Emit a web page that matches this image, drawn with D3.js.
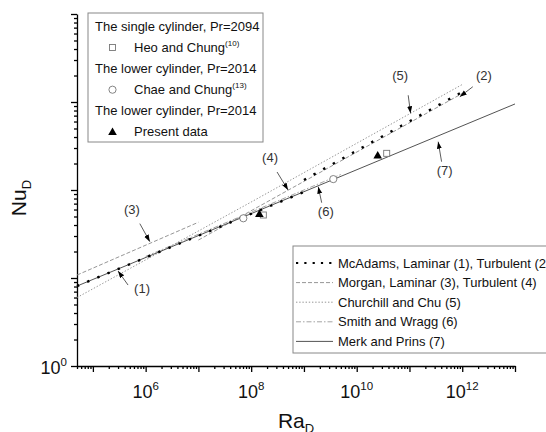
<!DOCTYPE html>
<html>
<head>
<meta charset="utf-8">
<script src="https://cdn.jsdelivr.net/npm/d3@7"></script>
<style>
	body { margin: 0; background: #fff; }
	svg { display: block; font-family: "Liberation Sans", Arial, sans-serif; }
</style>
</head>
<body>
<div id="chart-area"></div>
<script>

// correlation lines, [Ra, Nu] points
let mcadamsLam = [[5e4, 8.1], [1e9, 95]];
let mcadamsTurb = [[1e9, 130], [1e12, 1300]];
let morganLam = [[5e4, 10.8], [1e7, 43]];
let morganTurb = [[1e7, 27], [1e12, 1250]];
let churchillChu = [[5e4, 6.0], [1e8, 73], [1e12, 1580]];
let smithWragg = [[1e6, 17.6], [5e9, 150]];
let merkPrins = [[5e4, 8.1], [1e13, 950]];

// measured data
let heoChung = [[1.7e8, 52], [3.7e10, 261]];
let chaeChung = [[7.1e7, 47.7], [3.6e9, 133]];
let presentData = [[1.43e8, 53.4], [2.5e10, 247]];

// tick labels (powers of ten)
let xTickLabels = [6, 8, 10, 12];
let yTickLabels = [0];

// annotation labels and the [Ra, Nu] point each arrow points at
let annoLabels = ["(1)", "(2)", "(3)", "(4)", "(5)", "(6)", "(7)"];
let annoTips = [[3e5, 12], [9e11, 1148], [1.2e6, 25.9], [5e8, 100], [1.05e11, 745], [1.87e9, 109], [3.5e11, 354]];

let lineNames = ["McAdams, Laminar (1), Turbulent (2)", "Morgan, Laminar (3), Turbulent (4)",
	"Churchill and Chu (5)", "Smith and Wragg (6)", "Merk and Prins (7)"];

// SVG Size
let width = 546,
	height = 432;

let svg = d3.select("#chart-area").append("svg")
	.attr("width", width)
	.attr("height", height);

let x = d3.scaleLog().domain([5e4, 1e13]).range([77, 515]);
let y = d3.scaleLog().domain([1, 1e4]).range([366, 14]);

// styles for each line kind
let styles = {
	mcadams: { stroke: "#000", width: 2.4, dash: "2.4,8.6" },
	morgan: { stroke: "#8a8a8a", width: 0.9, dash: "4,2" },
	churchill: { stroke: "#8a8a8a", width: 0.9, dash: "1.4,1.8" },
	smith: { stroke: "#9a9a9a", width: 0.9, dash: "5,2,1.5,2" },
	merk: { stroke: "#404040", width: 0.9, dash: null }
};

// Axes
let xMajor = d3.range(5, 14).map(e => Math.pow(10, e));
let xMinor = [];
d3.range(4, 13).forEach(e => {
	for (let m = 2; m <= 9; m++) {
		let v = m * Math.pow(10, e);
		if (v >= 5e4 && v <= 1e13) xMinor.push(v);
	}
});
let yMajor = d3.range(0, 5).map(e => Math.pow(10, e));
let yMinor = [];
d3.range(0, 4).forEach(e => {
	for (let m = 2; m <= 9; m++) yMinor.push(m * Math.pow(10, e));
});

function styleAxis(g) {
	g.selectAll("path, line").attr("stroke", "#000").attr("stroke-width", 1.3);
}

svg.append("g")
	.attr("transform", "translate(0,366)")
	.call(d3.axisBottom(x).tickValues(xMinor).tickSize(3).tickFormat(""))
	.call(g => g.select(".domain").remove())
	.call(styleAxis);
svg.append("g")
	.attr("transform", "translate(0,366)")
	.call(d3.axisBottom(x).tickValues(xMajor).tickSize(6).tickSizeOuter(0).tickFormat(""))
	.call(styleAxis);

svg.append("g")
	.attr("transform", "translate(77,0)")
	.call(d3.axisLeft(y).tickValues(yMinor).tickSize(3).tickFormat(""))
	.call(g => g.select(".domain").remove())
	.call(styleAxis);
svg.append("g")
	.attr("transform", "translate(77,0)")
	.call(d3.axisLeft(y).tickValues(yMajor).tickSize(6).tickSizeOuter(0).tickFormat(""))
	.call(styleAxis);

// tick labels
xTickLabels.forEach(e => {
	let t = svg.append("text")
		.attr("x", x(Math.pow(10, e)))
		.attr("y", 398)
		.attr("text-anchor", "middle")
		.attr("font-size", 18)
		.attr("fill", "#111")
		.text("10");
	t.append("tspan").attr("font-size", 11.5).attr("dy", -8).text(e);
});
yTickLabels.forEach(e => {
	let t = svg.append("text")
		.attr("x", 67)
		.attr("y", y(Math.pow(10, e)) + 8)
		.attr("text-anchor", "end")
		.attr("font-size", 18)
		.attr("fill", "#111")
		.text("10");
	t.append("tspan").attr("font-size", 11.5).attr("dy", -8).text(e);
});

// axis titles
let xt = svg.append("text")
	.attr("x", 296)
	.attr("y", 428)
	.attr("text-anchor", "middle")
	.attr("font-size", 21)
	.attr("fill", "#111")
	.text("Ra");
xt.append("tspan").attr("font-size", 13).attr("dy", 5).text("D");

let yt = svg.append("text")
	.attr("transform", "translate(26,198) rotate(-90)")
	.attr("text-anchor", "middle")
	.attr("font-size", 21)
	.attr("fill", "#111")
	.text("Nu");
yt.append("tspan").attr("font-size", 13).attr("dy", 5).text("D");

// correlation lines
let line = d3.line().x(d => x(d[0])).y(d => y(d[1]));

let series = [
	{ data: morganLam, s: styles.morgan },
	{ data: morganTurb, s: styles.morgan },
	{ data: churchillChu, s: styles.churchill },
	{ data: smithWragg, s: styles.smith },
	{ data: merkPrins, s: styles.merk },
	{ data: mcadamsLam, s: styles.mcadams },
	{ data: mcadamsTurb, s: styles.mcadams }
];

svg.selectAll(".corr").data(series).enter()
	.append("path")
	.attr("class", "corr")
	.attr("d", d => line(d.data))
	.attr("fill", "none")
	.attr("stroke", d => d.s.stroke)
	.attr("stroke-width", d => d.s.width)
	.attr("stroke-dasharray", d => d.s.dash);

// markers
function square(g, cx, cy) {
	g.append("rect")
		.attr("x", cx - 3).attr("y", cy - 3)
		.attr("width", 6).attr("height", 6)
		.attr("fill", "#fff").attr("stroke", "#777").attr("stroke-width", 0.9);
}
function circle(g, cx, cy) {
	g.append("circle")
		.attr("cx", cx).attr("cy", cy).attr("r", 3.6)
		.attr("fill", "#fff").attr("stroke", "#777").attr("stroke-width", 0.9);
}
function triangle(g, cx, cy) {
	g.append("path")
		.attr("d", `M${cx},${cy - 4.5}L${cx + 4.3},${cy + 3}L${cx - 4.3},${cy + 3}Z`)
		.attr("fill", "#000");
}

let marks = svg.append("g");
chaeChung.forEach(d => circle(marks, x(d[0]), y(d[1])));
heoChung.forEach(d => square(marks, x(d[0]), y(d[1])));
presentData.forEach(d => triangle(marks, x(d[0]), y(d[1])));

// annotation arrows
svg.append("defs").append("marker")
	.attr("id", "head")
	.attr("markerUnits", "userSpaceOnUse")
	.attr("markerWidth", 8).attr("markerHeight", 6)
	.attr("refX", 7).attr("refY", 2.5)
	.attr("orient", "auto")
	.append("path")
	.attr("d", "M0,0L7,2.5L0,5Z")
	.attr("fill", "#000");

// label offset and arrow start offset from the tip, in px
let annoOffsets = [
	{ lx: 24, ly: 17.5, sx: 10, sy: 14 },
	{ lx: 24, ly: -21, sx: 13, sy: -10 },
	{ lx: -18, ly: -32, sx: -10, sy: -18 },
	{ lx: -18, ly: -33, sx: -11, sy: -18 },
	{ lx: -10.5, ly: -38, sx: -2.4, sy: -18 },
	{ lx: 7.5, ly: 24.5, sx: 3.4, sy: 16 },
	{ lx: 6.5, ly: 28.5, sx: 3.4, sy: 20 }
];

annoLabels.forEach((lab, i) => {
	let tx = x(annoTips[i][0]), ty = y(annoTips[i][1]);
	let o = annoOffsets[i];
	svg.append("line")
		.attr("x1", tx + o.sx).attr("y1", ty + o.sy)
		.attr("x2", tx).attr("y2", ty)
		.attr("stroke", "#333").attr("stroke-width", 0.8)
		.attr("marker-end", "url(#head)");
	svg.append("text")
		.attr("x", tx + o.lx).attr("y", ty + o.ly + 4.5)
		.attr("text-anchor", "middle")
		.attr("font-size", 13)
		.attr("fill", "#333")
		.text(lab);
});

// legend for the data
let legendItems = [
	{ title: "The single cylinder, Pr=2094", name: "Heo and Chung", ref: "(10)", sym: square },
	{ title: "The lower cylinder, Pr=2014", name: "Chae and Chung", ref: "(13)", sym: circle },
	{ title: "The lower cylinder, Pr=2014", name: "Present data", ref: "", sym: triangle }
];

let lg = svg.append("g");
lg.append("rect")
	.attr("x", 88).attr("y", 13).attr("width", 175).attr("height", 129)
	.attr("fill", "#fff").attr("stroke", "#888").attr("stroke-width", 1);

legendItems.forEach((d, i) => {
	let base = 31 + i * 42.2;
	lg.append("text")
		.attr("x", 95).attr("y", base)
		.attr("font-size", 13).attr("fill", "#111")
		.text(d.title);
	let t = lg.append("text")
		.attr("x", 134).attr("y", base + 21)
		.attr("font-size", 13).attr("fill", "#111")
		.text(d.name);
	if (d.ref) t.append("tspan").attr("font-size", 8).attr("dy", -6.5).text(d.ref);
	d.sym(lg, 112.5, base + 16.5);
});

// legend for the correlations
let lineStyles = [styles.mcadams, styles.morgan, styles.churchill, styles.smith, styles.merk];
let lg2 = svg.append("g");
lg2.append("rect")
	.attr("x", 293).attr("y", 246).attr("width", 270).attr("height", 107)
	.attr("fill", "#fff").attr("stroke", "#888").attr("stroke-width", 1);

lineNames.forEach((name, i) => {
	let base = 267.5 + i * 19.6;
	let s = lineStyles[i];
	lg2.append("line")
		.attr("x1", 296).attr("x2", 333)
		.attr("y1", base - 4.5).attr("y2", base - 4.5)
		.attr("stroke", s.stroke)
		.attr("stroke-width", i === 0 ? 2.2 : s.width)
		.attr("stroke-dasharray", i === 0 ? "2.2,6.1" : s.dash);
	lg2.append("text")
		.attr("x", 338).attr("y", base)
		.attr("font-size", 13).attr("fill", "#111")
		.text(name);
});

</script>
</body>
</html>
